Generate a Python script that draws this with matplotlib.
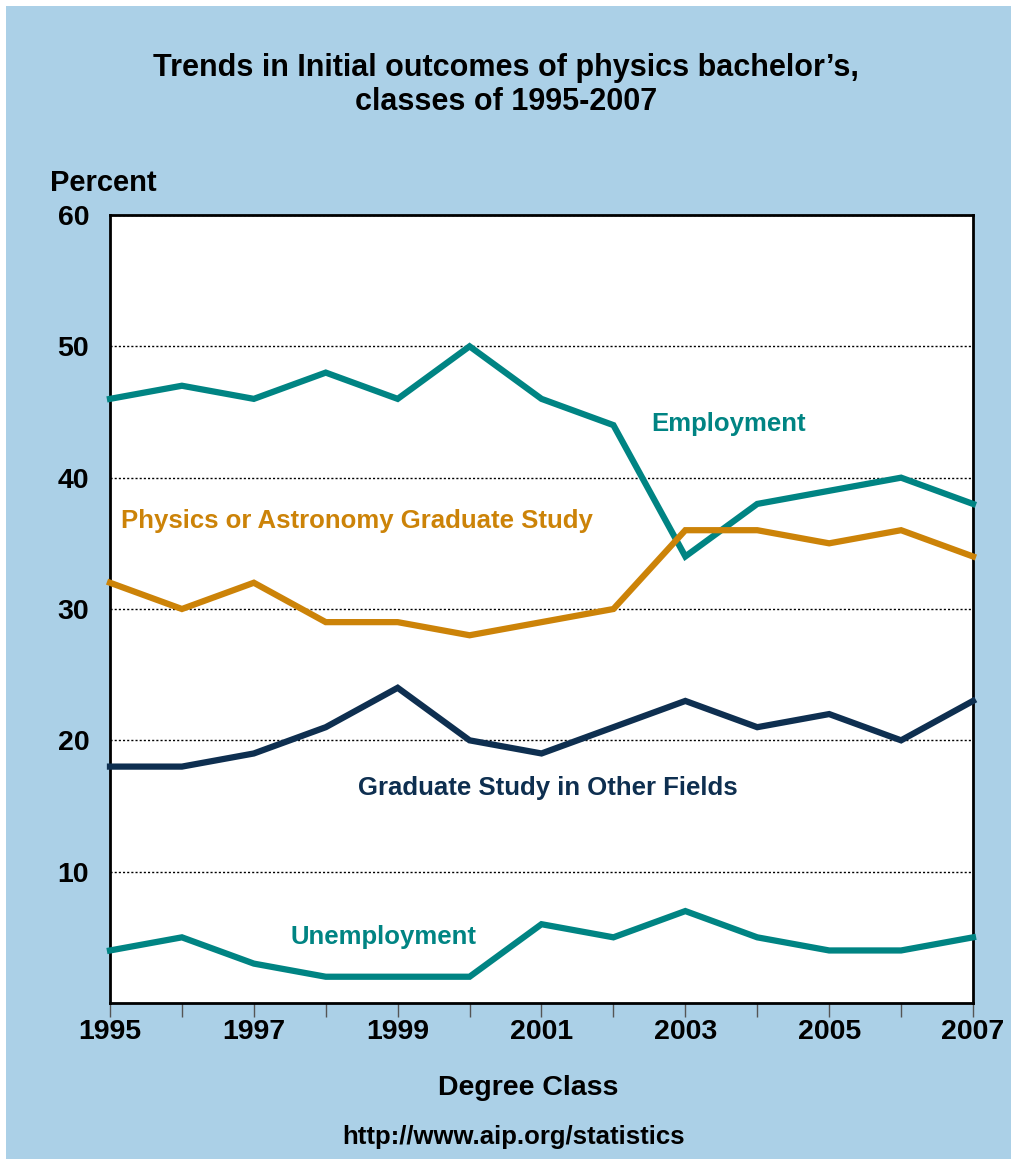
import matplotlib
matplotlib.use("Agg")
import matplotlib.pyplot as plt
from matplotlib.patches import Rectangle
from matplotlib.ticker import MultipleLocator

years = list(range(1995, 2008))
employment = [46, 47, 46, 48, 46, 50, 46, 44, 34, 38, 39, 40, 38]
physics_grad = [32, 30, 32, 29, 29, 28, 29, 30, 36, 36, 35, 36, 34]
other_grad = [18, 18, 19, 21, 24, 20, 19, 21, 23, 21, 22, 20, 23]
unemployment = [4, 5, 3, 2, 2, 2, 6, 5, 7, 5, 4, 4, 5]
xtick_labels = ["1995", "1997", "1999", "2001", "2003", "2005", "2007"]
yticks = [10, 20, 30, 40, 50, 60]

TEAL = "#008483"
ORANGE = "#CC8308"
NAVY = "#0E2F50"
BG = "#ABD0E7"

plt.rcParams["font.family"] = ["Liberation Sans", "DejaVu Sans"]
plt.rcParams["font.weight"] = "bold"

fig = plt.figure(figsize=(10.11, 11.59), dpi=100, facecolor="white")
fig.patches.append(Rectangle((6 / 1011, 0), 1, 1 - 6 / 1159, transform=fig.transFigure,
                             facecolor=BG, edgecolor="none", zorder=-10))

ax = fig.add_axes([110 / 1011, 1 - 1003 / 1159, 863 / 1011, 788 / 1159])
ax.set_facecolor("white")
lw = 4.5
ax.plot(years, employment, color=TEAL, lw=lw, solid_joinstyle="miter", clip_on=False, zorder=3)
ax.plot(years, physics_grad, color=ORANGE, lw=lw, solid_joinstyle="miter", clip_on=False, zorder=3)
ax.plot(years, other_grad, color=NAVY, lw=lw, solid_joinstyle="miter", clip_on=False, zorder=3)
ax.plot(years, unemployment, color=TEAL, lw=lw, solid_joinstyle="miter", clip_on=False, zorder=3)

ax.set_xlim(1995, 2007)
ax.set_ylim(0, 60)
ax.set_yticks(yticks)
ax.set_yticklabels([str(v) for v in yticks], fontsize=20.5, fontweight="bold")
ax.tick_params(axis="y", length=0, pad=15)
ax.set_xticks(list(range(1995, 2008, 2)))
ax.set_xticklabels(xtick_labels, fontsize=20.5, fontweight="bold")
ax.xaxis.set_minor_locator(MultipleLocator(1))
ax.tick_params(axis="x", which="both", direction="out", length=10, width=1, color="#555555", pad=1.5)
ax.grid(axis="y", color="black", linestyle=(0, (1.5, 1.5)), lw=1.0)
for s in ax.spines.values():
    s.set_linewidth(2)
    s.set_color("black")

lab = 18.5
ax.text(2003.6, 44.1, "Employment", color=TEAL, fontsize=lab, fontweight="bold", ha="center", va="center")
ax.text(1998.44, 36.7, "Physics or Astronomy Graduate Study", color=ORANGE, fontsize=lab, fontweight="bold", ha="center", va="center")
ax.text(2001.09, 16.4, "Graduate Study in Other Fields", color=NAVY, fontsize=lab, fontweight="bold", ha="center", va="center")
ax.text(1998.8, 5.0, "Unemployment", color=TEAL, fontsize=lab, fontweight="bold", ha="center", va="center")

fig.text(506 / 1011, 1 - 68 / 1159, "Trends in Initial outcomes of physics bachelor\u2019s,", fontsize=22,
         fontweight="bold", ha="center", va="center")
fig.text(506 / 1011, 1 - 102 / 1159, "classes of 1995-2007", fontsize=22, fontweight="bold", ha="center", va="center")
fig.text(103 / 1011, 1 - 183 / 1159, "Percent", fontsize=21, fontweight="bold", ha="center", va="center")
fig.text(528 / 1011, 1 - 1088 / 1159, "Degree Class", fontsize=20.5, fontweight="bold", ha="center", va="center")
fig.text(514 / 1011, 1 - 1137 / 1159, "http://www.aip.org/statistics", fontsize=18.5, fontweight="bold", ha="center", va="center")

fig.savefig("out.png", dpi=100, facecolor=fig.get_facecolor())
